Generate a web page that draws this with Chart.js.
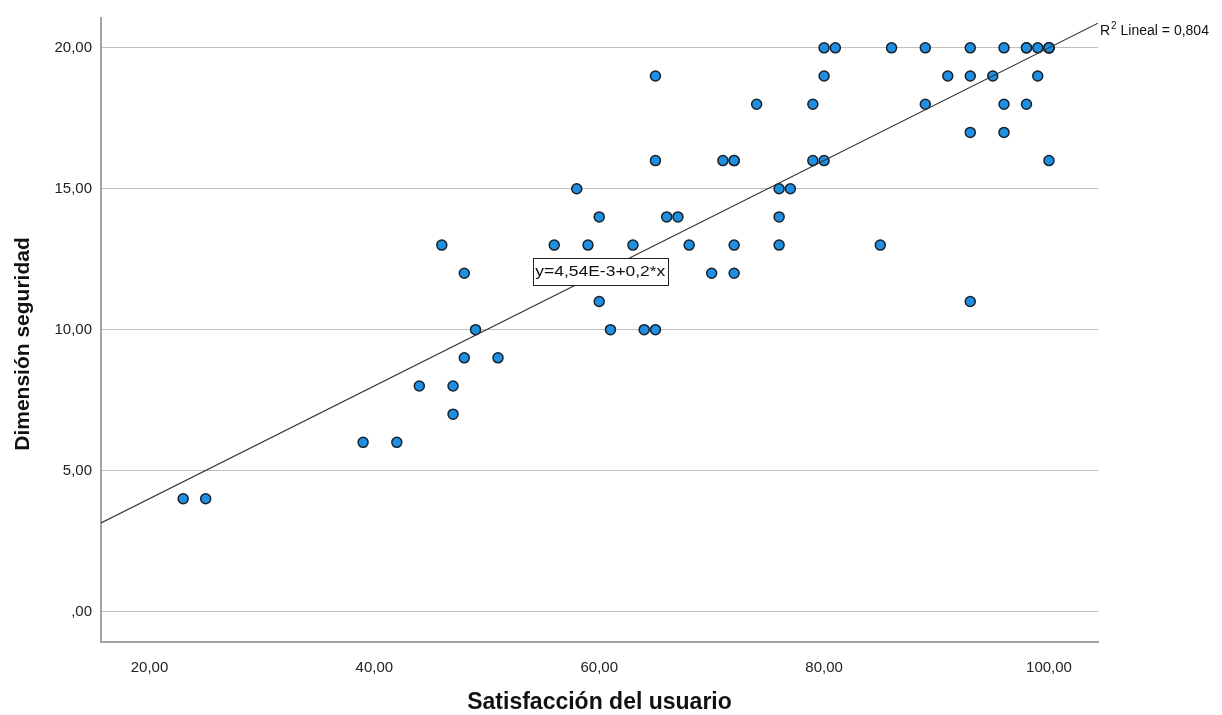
<!DOCTYPE html>
<html lang="es">
<head>
<meta charset="utf-8">
<title>Dimensión seguridad vs Satisfacción del usuario</title>
<script src="https://cdn.jsdelivr.net/npm/chart.js@4.4.1/dist/chart.umd.min.js"></script>
<style>
  html, body { margin: 0; padding: 0; background: #ffffff; }
  #wrap { width: 1222px; height: 715px; position: relative; }
</style>
</head>
<body>
<div id="wrap"><canvas id="chart" width="1222" height="715"></canvas></div>
<script>
// Observations: user satisfaction (x) and security dimension score (y)
const satisfaccion = [
  80, 81, 86, 89, 93, 96, 98, 98, 99, 100, 100, 100,
  65, 80, 91, 93, 95, 99,
  74, 79, 89, 96, 98,
  93, 96,
  65, 71, 72, 72, 79, 80, 100,
  58, 76, 77,
  60, 66, 67, 76,
  46, 56, 59, 63, 68, 72, 76, 85,
  48, 70, 72,
  60, 93,
  49, 61, 64, 65,
  48, 51,
  44, 47,
  47,
  39, 42,
  23, 25
];
const seguridad = [
  20, 20, 20, 20, 20, 20, 20, 20, 20, 20, 20, 20,
  19, 19, 19, 19, 19, 19,
  18, 18, 18, 18, 18,
  17, 17,
  16, 16, 16, 16, 16, 16, 16,
  15, 15, 15,
  14, 14, 14, 14,
  13, 13, 13, 13, 13, 13, 13, 13,
  12, 12, 12,
  11, 11,
  10, 10, 10, 10,
  9, 9,
  8, 8,
  7,
  6, 6,
  4, 4
];

// Fitted linear model and its goodness of fit
const regIntercept = 4.54e-3;
const regSlope = 0.2;
const rSquared = 0.804;

// Axis ticks
const xTickValues = [20, 40, 60, 80, 100];
const xTickLabels = ['20,00', '40,00', '60,00', '80,00', '100,00'];
const yTickValues = [0, 5, 10, 15, 20];
const yTickLabels = [',00', '5,00', '10,00', '15,00', '20,00'];

// Axis ranges
const xMin = 15.69, xMax = 104.36;
const yMin = -1.086, yMax = 21.06;

const xTitle = 'Satisfacción del usuario';
const yTitle = 'Dimensión seguridad';

const FONT = "'Liberation Sans', Arial, sans-serif";

const points = satisfaccion.map((v, i) => ({ x: v, y: seguridad[i] }));
const fitLine = [xMin, xMax].map(x => ({ x: x, y: regIntercept + regSlope * x }));

// Equation box, R² note and the vertical axis title
const fitLabels = {
  id: 'fitLabels',
  afterDatasetsDraw(chart, args, opts) {
    const { ctx, scales: { x, y }, chartArea } = chart;

    // equation box
    ctx.save();
    const eqText = 'y=4,54E-3+' + String(regSlope).replace('.', ',') + '*x';
    const cx = x.getPixelForValue(opts.eqAt[0]);
    const cy = y.getPixelForValue(opts.eqAt[1]);
    ctx.font = '15px ' + FONT;
    const w = ctx.measureText(eqText).width;
    const targetW = 130;
    const bw = 135, bh = 27;
    const bx = Math.round(cx - bw / 2) + 0.5, by = Math.round(cy - bh / 2) + 0.5;
    ctx.fillStyle = '#ffffff';
    ctx.fillRect(bx, by, bw, bh);
    ctx.strokeStyle = '#222222';
    ctx.lineWidth = 1;
    ctx.strokeRect(bx, by, bw, bh);
    ctx.fillStyle = '#111111';
    ctx.textBaseline = 'middle';
    ctx.textAlign = 'left';
    ctx.translate(cx - targetW / 2, cy + 1);
    ctx.scale(targetW / w, 1);
    ctx.fillText(eqText, 0, 0);
    ctx.restore();

    // R² note at the end of the fit line
    ctx.save();
    const lx = chartArea.right + 2;
    const ly = y.getPixelForValue(regIntercept + regSlope * xMax) + 12;
    ctx.fillStyle = '#111111';
    ctx.textBaseline = 'alphabetic';
    ctx.textAlign = 'left';
    ctx.font = '14px ' + FONT;
    ctx.fillText('R', lx, ly);
    let px = lx + ctx.measureText('R').width + 1;
    ctx.font = '10px ' + FONT;
    ctx.fillText('2', px, ly - 6);
    px += ctx.measureText('2').width;
    ctx.font = '14px ' + FONT;
    ctx.fillText(' Lineal = ' + String(rSquared).replace('.', ','), px, ly);
    ctx.restore();

    // vertical axis title
    ctx.save();
    ctx.translate(23, (chartArea.top + chartArea.bottom) / 2 + 14);
    ctx.rotate(-Math.PI / 2);
    ctx.font = 'bold 21px ' + FONT;
    ctx.fillStyle = '#111111';
    ctx.textAlign = 'center';
    ctx.textBaseline = 'middle';
    ctx.fillText(yTitle, 0, 0);
    ctx.restore();
  }
};

new Chart(document.getElementById('chart'), {
  type: 'scatter',
  data: {
    datasets: [
      {
        type: 'line',
        label: 'Lineal',
        data: fitLine,
        borderColor: '#333333',
        borderWidth: 1.2,
        pointRadius: 0,
        fill: false,
        order: 0
      },
      {
        label: 'Observaciones',
        data: points,
        backgroundColor: '#1e8fe3',
        borderColor: '#18222c',
        borderWidth: 1.5,
        pointRadius: 5,
        order: 1
      }
    ]
  },
  options: {
    responsive: false,
    animation: false,
    devicePixelRatio: 1,
    layout: { padding: { top: 13, right: 124, left: 0, bottom: 0 } },
    plugins: {
      legend: { display: false },
      tooltip: { enabled: false },
      fitLabels: { eqAt: [60.1, 12.08] }
    },
    scales: {
      x: {
        type: 'linear',
        min: xMin,
        max: xMax,
        afterBuildTicks: (s) => { s.ticks = xTickValues.map(v => ({ value: v })); },
        afterFit: (s) => { s.height = 73; },
        ticks: {
          callback: (v) => xTickLabels[xTickValues.indexOf(v)],
          font: { family: FONT, size: 15 },
          color: '#222222',
          padding: 17,
          maxRotation: 0
        },
        grid: { display: false, drawTicks: false },
        border: { display: true, color: '#a3a3a3', width: 2 },
        title: {
          display: true,
          text: xTitle,
          font: { family: FONT, size: 23, weight: 'bold' },
          color: '#111111',
          padding: { top: 0, bottom: -1 }
        }
      },
      y: {
        type: 'linear',
        min: yMin,
        max: yMax,
        afterBuildTicks: (s) => { s.ticks = yTickValues.map(v => ({ value: v })); },
        afterFit: (s) => { s.width = 101; },
        ticks: {
          callback: (v) => yTickLabels[yTickValues.indexOf(v)],
          font: { family: FONT, size: 15 },
          color: '#222222',
          padding: 9
        },
        grid: { color: '#bfbfbf', lineWidth: 1, drawTicks: false },
        border: { display: true, color: '#a3a3a3', width: 2 },
        title: { display: false }
      }
    }
  },
  plugins: [fitLabels]
});
</script>
</body>
</html>
